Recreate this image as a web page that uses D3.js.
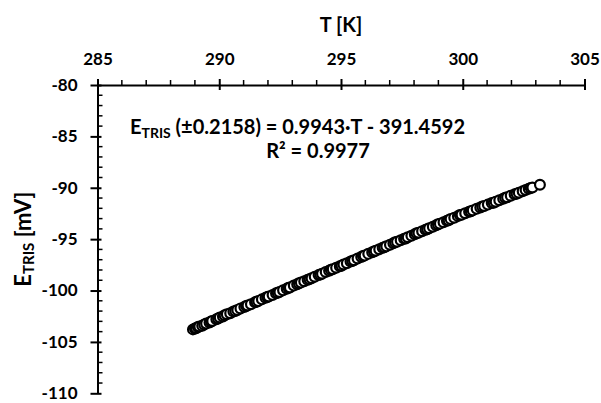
<!DOCTYPE html>
<html><head><meta charset="utf-8">
<script src="https://cdn.jsdelivr.net/npm/d3@7"></script>
<style>
body{margin:0;background:#fff;}
svg{display:block;font-family:Lato,"Open Sans",sans-serif;font-weight:bold;}
</style></head>
<body>
<svg id="c" width="601" height="403"></svg>
<script>
const xTicks = [285, 290, 295, 300, 305];
const yTicks = [-80, -85, -90, -95, -100, -105, -110];
const tempK = [288.92,289.00,289.05,289.12,289.18,289.30,289.38,289.46,289.60,289.66,289.71,289.88,289.95,290.02,290.15,290.22,290.31,290.45,290.58,290.66,290.74,290.87,291.03,291.10,291.16,291.30,291.47,291.53,291.60,291.75,291.90,291.97,292.03,292.19,292.33,292.40,292.47,292.62,292.77,292.84,292.90,293.06,293.20,293.27,293.35,293.49,293.63,293.71,293.79,293.92,294.08,294.15,294.22,294.37,294.51,294.58,294.66,294.80,294.95,295.02,295.10,295.24,295.39,295.46,295.53,295.68,295.83,295.90,295.97,296.12,296.28,296.35,296.42,296.57,296.71,296.78,296.86,297.01,297.15,297.22,297.30,297.45,297.59,297.66,297.74,297.89,298.03,298.10,298.18,298.33,298.47,298.54,298.62,298.77,298.91,298.98,299.06,299.21,299.35,299.42,299.50,299.65,299.80,299.88,299.95,300.10,300.26,300.33,300.41,300.57,300.72,300.80,300.88,301.03,301.19,301.27,301.35,301.50,301.66,301.74,301.82,301.97,302.13,302.21,302.30,302.46,302.58,302.71,302.79,302.86,303.17];
const eTris = [-103.78,-103.70,-103.66,-103.55,-103.50,-103.42,-103.30,-103.22,-103.10,-103.02,-102.97,-102.79,-102.73,-102.62,-102.52,-102.41,-102.31,-102.20,-102.05,-101.99,-101.90,-101.74,-101.60,-101.50,-101.45,-101.33,-101.14,-101.10,-101.03,-100.86,-100.71,-100.62,-100.58,-100.43,-100.26,-100.21,-100.14,-99.98,-99.83,-99.74,-99.70,-99.52,-99.40,-99.30,-99.23,-99.10,-98.95,-98.89,-98.80,-98.66,-98.50,-98.45,-98.37,-98.20,-98.08,-97.98,-97.92,-97.78,-97.63,-97.58,-97.47,-97.34,-97.18,-97.13,-97.05,-96.89,-96.74,-96.64,-96.60,-96.43,-96.28,-96.21,-96.13,-95.99,-95.84,-95.79,-95.70,-95.55,-95.40,-95.30,-95.26,-95.10,-94.97,-94.93,-94.82,-94.67,-94.52,-94.42,-94.38,-94.22,-94.09,-94.04,-93.94,-93.79,-93.65,-93.55,-93.49,-93.35,-93.21,-93.17,-93.05,-92.91,-92.76,-92.66,-92.62,-92.48,-92.33,-92.29,-92.20,-92.05,-91.92,-91.82,-91.77,-91.64,-91.49,-91.45,-91.35,-91.21,-91.07,-90.98,-90.92,-90.78,-90.63,-90.58,-90.48,-90.34,-90.22,-90.10,-90.02,-89.98,-89.70];

const svg = d3.select("#c");
const x = d3.scaleLinear().domain([285, 305]).range([97.5, 584.5]);
const y = d3.scaleLinear().domain([-80, -110]).range([85, 393.3]);
const xMinor = d3.range(285, 306, 1).filter(v => v % 5 !== 0);
const yMinor = d3.range(-110, -79, 1).filter(v => v % 5 !== 0);
const fmt = d => String(d);

// X axis (top)
const gx = svg.append("g").attr("transform", `translate(0,${y(-80)})`);
gx.call(d3.axisTop(x).tickValues(xTicks).tickSizeInner(6).tickSizeOuter(0).tickPadding(14).tickFormat(fmt));
gx.select(".domain").attr("stroke-width", 2);
gx.selectAll(".tick line").attr("y2", 5).attr("y1", -6).attr("stroke-width", 2);
gx.selectAll(".tick text").attr("font-size", 17).attr("font-family", "Lato").attr("font-weight", "bold").attr("fill", "#000");
gx.append("g").selectAll("line").data(xMinor).join("line")
  .attr("x1", d => x(d)).attr("x2", d => x(d)).attr("y1", 0).attr("y2", -5)
  .attr("stroke", "#000").attr("stroke-width", 1.5);

// Y axis (left)
const gy = svg.append("g").attr("transform", `translate(${x(285)},0)`);
gy.call(d3.axisLeft(y).tickValues(yTicks).tickSizeInner(7).tickSizeOuter(0).tickPadding(13).tickFormat(fmt));
gy.select(".domain").attr("stroke-width", 2);
gy.selectAll(".tick line").attr("x1", 4).attr("x2", -7).attr("stroke-width", 2);
gy.selectAll(".tick text").attr("font-size", 17).attr("font-family", "Lato").attr("font-weight", "bold").attr("fill", "#000");
gy.append("g").selectAll("line").data(yMinor).join("line")
  .attr("x1", 0).attr("x2", 5).attr("y1", d => y(d)).attr("y2", d => y(d))
  .attr("stroke", "#000").attr("stroke-width", 1.5);

// Points
svg.append("g").selectAll("circle").data(tempK.map((t, i) => [t, eTris[i]])).join("circle")
  .attr("cx", d => x(d[0])).attr("cy", d => y(d[1])).attr("r", 4.9)
  .attr("fill", "#fff").attr("stroke", "#000").attr("stroke-width", 2.2);

// Axis titles
svg.append("text").attr("x", x(295)).attr("y", 32).attr("text-anchor", "middle")
  .attr("font-size", 20).text("T [K]");
const yl = svg.append("text").attr("transform", `translate(31,${y(-95)}) rotate(-90)`).attr("text-anchor", "middle").attr("font-size", 22);
yl.append("tspan").text("E");
yl.append("tspan").attr("font-size", 15).attr("dy", 3).text("TRIS");
yl.append("tspan").attr("dy", -3).text(" [mV]");

// Equation
const eq = svg.append("text").attr("x", 130).attr("y", 134).attr("font-size", 20);
eq.append("tspan").text("E");
eq.append("tspan").attr("font-size", 14).attr("dy", 4).text("TRIS");
eq.append("tspan").attr("dy", -4).text(" (±0.2158) = 0.9943·T - 391.4592");
svg.append("text").attr("x", 318).attr("y", 158).attr("text-anchor", "middle").attr("font-size", 20).text("R² = 0.9977");
</script>
</body></html>
